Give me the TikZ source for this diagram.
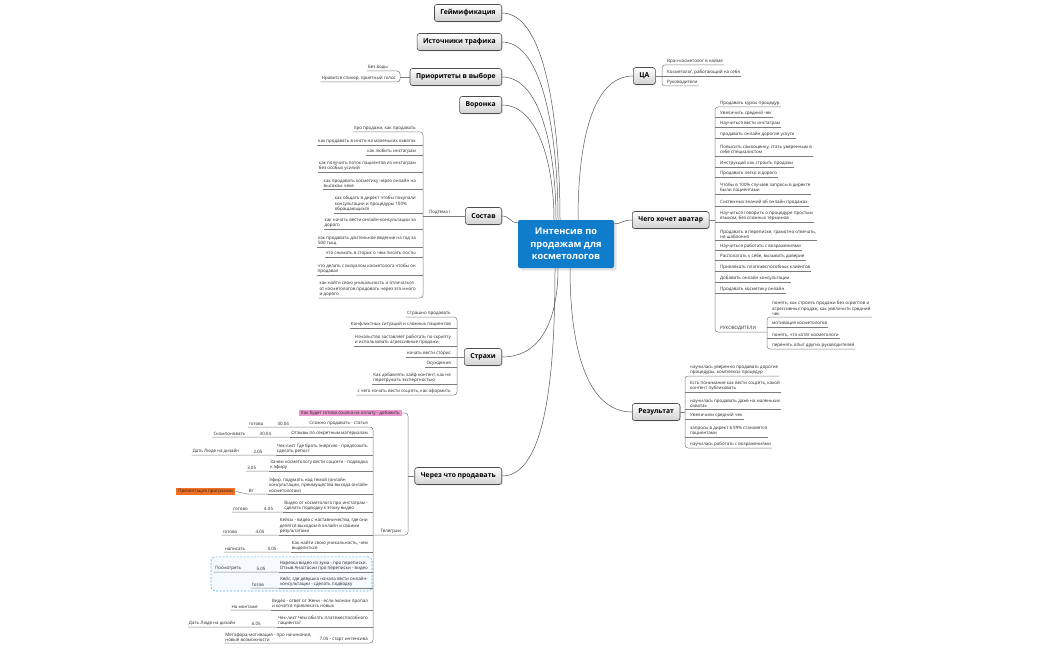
\documentclass[tikz,border=0pt]{standalone}
\usepackage{fontspec}
\setmainfont{Open Sans}
\usetikzlibrary{positioning,calc,fit,shadows,backgrounds}
\definecolor{rootblue}{RGB}{16,124,204}
\definecolor{linegray}{RGB}{85,85,85}
\definecolor{ulgray}{RGB}{125,125,125}
\definecolor{pinkmark}{RGB}{234,150,206}
\definecolor{orangemark}{RGB}{242,112,36}
\definecolor{dashblue}{RGB}{90,175,232}

\begin{document}
\begin{tikzpicture}[x=1pt, y=-1pt,
    root/.style={fill=rootblue, text=white, font=\bfseries\fontsize{9.3}{12.5}\selectfont, align=center,
      rounded corners=2pt, minimum width=96pt, minimum height=48pt, drop shadow={opacity=0.2}},
    topic/.style={draw=black!70, line width=0.6pt, rounded corners=2.5pt, top color=white, bottom color=black!18,
      font=\bfseries\fontsize{6.8}{8}\selectfont, minimum height=17pt, inner xsep=6pt, inner ysep=2pt,
      drop shadow={opacity=0.2, shadow xshift=0.8pt, shadow yshift=-0.8pt}},
    leaf/.style={font=\fontsize{4.45}{5.5}\selectfont, text=black!85, align=left, inner sep=1pt},
    branch/.style={draw=ulgray, line width=0.5pt, rounded corners=3pt},
    link/.style={draw=linegray, line width=0.5pt},
    boundary/.style={draw=dashblue, fill=dashblue!6, dash pattern=on 2pt off 1.5pt, rounded corners=4pt, line width=0.6pt}]
    \useasboundingbox (0,0) rectangle (1050,650);

    % central topic
    \node[root] (root) at (566,244) {Интенсив по\\продажам для\\косметологов};

    % main topics, left
    \node[topic, anchor=east] (gamif) at (502,13) {Геймификация};
    \node[topic, anchor=east] (traffic) at (502,42) {Источники трафика};
    \node[topic, anchor=east] (prior) at (502,77) {Приоритеты в выборе};
    \node[topic, anchor=east] (funnel) at (502,105) {Воронка};
    \node[topic, anchor=east] (content) at (502,216) {Состав};
    \node[topic, anchor=east] (fears) at (502,357) {Страхи};
    \node[topic, anchor=east] (channel) at (502,476) {Через что продавать};
    % main topics, right
    \node[topic, anchor=west] (ca) at (633,76) {ЦА};
    \node[topic, anchor=west] (avatar) at (632,220) {Чего хочет аватар};
    \node[topic, anchor=west] (result) at (632,412) {Результат};

    % curves to the centre
    \draw[link] (gamif.east) .. controls +(45,0) and +(0,-90) .. ([xshift=-6pt]root.north);
    \draw[link] (traffic.east) .. controls +(42,0) and +(0,-80) .. ([xshift=-8pt]root.north);
    \draw[link] (prior.east) .. controls +(40,0) and +(0,-65) .. ([xshift=-10pt]root.north);
    \draw[link] (funnel.east) .. controls +(38,0) and +(0,-50) .. ([xshift=-12pt]root.north);
    \draw[link] (content.east) .. controls +(8,0) and +(-8,0) .. ([yshift=-3pt]root.north west);
    \draw[link] (fears.east) .. controls +(40,0) and +(0,50) .. ([xshift=-8pt]root.south);
    \draw[link] (channel.east) .. controls +(45,0) and +(0,100) .. ([xshift=-11pt]root.south);
    \draw[link] (ca.west) .. controls +(-40,0) and +(0,-80) .. ([xshift=12pt]root.north);
    \draw[link] (avatar.west) .. controls +(-10,0) and +(8,0) .. ([yshift=-4pt]root.north east);
    \draw[link] (result.west) .. controls +(-45,0) and +(0,80) .. ([xshift=4pt]root.south);

    % Приоритеты в выборе
    \coordinate (priorsp) at (400,0);
    \node[leaf, anchor=south east] (prior1) at (389,71) {Без воды};
    \node[leaf, anchor=south east] (prior2) at (397,82) {Нравится спикер, приятный голос};
    \draw[branch] (prior1.south west) -- (prior1.south west -| priorsp) -- (prior2.south west -| priorsp) -- (prior2.south west);
    \draw[branch] (prior.west) -- (prior.west -| priorsp);

    % Состав
    \coordinate (contsp) at (423,0);
    \node[leaf, anchor=south west] (subtopic) at (428,216) {Подтема I};
    \draw[branch] (content.west -| contsp) -- (content.west);
    \node[leaf, anchor=south east] (cont1) at (417,132) {про продажи, как продавать};
    \node[leaf, anchor=south east] (cont2) at (417,145) {как продавать в инсте на маленьких охватах};
    \node[leaf, anchor=south east] (cont3) at (417,155) {как любить инстаграм};
    \node[leaf, anchor=south east] (cont4) at (417,172) {как получить поток пациентов из инстаграм\\без особых усилий};
    \node[leaf, anchor=south east] (cont5) at (417,189) {как продавать косметику через онлайн на\\высоком чеке};
    \node[leaf, anchor=south east] (cont6) at (417,213) {как общать в директ чтобы покупали\\консультации и процедуры 100\%\\обращающихся};
    \node[leaf, anchor=south east] (cont7) at (417,229) {как начать вести онлайн-консультации за\\дорого};
    \node[leaf, anchor=south east] (cont8) at (417,247) {как продавать длительное ведение на год за\\500 тыщ};
    \node[leaf, anchor=south east] (cont9) at (417,257) {что снимать в сторис о чем писать посты};
    \node[leaf, anchor=south east] (cont10) at (417,275) {что делать с визуалом косметолога чтобы он\\продавал};
    \node[leaf, anchor=south east] (cont11) at (417,298) {как найти свою уникальность и отличаться\\от косметологов продовать через это много\\и дорого};
    \draw[branch] (cont1.south west) -- (cont1.south west -| contsp) -- (cont11.south west -| contsp) -- (cont11.south west);
    \draw[branch] (cont2.south west) -- (cont2.south west -| contsp) (cont3.south west) -- (cont3.south west -| contsp)
      (cont4.south west) -- (cont4.south west -| contsp) (cont5.south west) -- (cont5.south west -| contsp)
      (cont6.south west) -- (cont6.south west -| contsp) (cont7.south west) -- (cont7.south west -| contsp)
      (cont8.south west) -- (cont8.south west -| contsp) (cont9.south west) -- (cont9.south west -| contsp)
      (cont10.south west) -- (cont10.south west -| contsp);

    % Страхи
    \coordinate (fearsp) at (457,0);
    \node[leaf, anchor=south east] (fear1) at (452,317) {Страшно продавать};
    \node[leaf, anchor=south east] (fear2) at (452,328) {Конфликтных ситуаций и сложных пациентов};
    \node[leaf, anchor=south east] (fear3) at (452,346) {Начальство заставляет работать по скрипту\\и использовать агрессивные продажи};
    \node[leaf, anchor=south east] (fear4) at (452,357) {начать вести сторис};
    \node[leaf, anchor=south east] (fear5) at (452,367) {Осуждения};
    \node[leaf, anchor=south east] (fear6) at (452,384) {Как добавлять лайф контент, как не\\перегружать экспертностью};
    \node[leaf, anchor=south east] (fear7) at (452,395) {с чего начать вести соцсеть, как оформить};
    \draw[branch] (fear1.south west) -- (fear1.south west -| fearsp) -- (fear7.south west -| fearsp) -- (fear7.south west);
    \draw[branch] (fear2.south west) -- (fear2.south west -| fearsp) (fear3.south west) -- (fear3.south west -| fearsp)
      (fear4.south west) -- (fear4.south west -| fearsp) (fear5.south west) -- (fear5.south west -| fearsp)
      (fear6.south west) -- (fear6.south west -| fearsp);
    \draw[branch] (fears.west) -- (fears.west -| fearsp);

    % ЦА
    \coordinate (casp) at (662,0);
    \node[leaf, anchor=south west] (ca1) at (666,65) {Врач-косметолог в найме};
    \node[leaf, anchor=south west] (ca2) at (666,76) {Косметолог, работающий на себя};
    \node[leaf, anchor=south west] (ca3) at (666,86) {Руководители};
    \draw[branch] (ca1.south east) -- (ca1.south east -| casp) -- (ca3.south east -| casp) -- (ca3.south east);
    \draw[branch] (ca2.south east) -- (ca2.south east -| casp);
    \draw[branch] (ca.east) -- (ca.east -| casp);

    % Чего хочет аватар
    \coordinate (avsp) at (715,0);
    \coordinate (bosssp) at (767,0);
    \node[leaf, anchor=south west] (av1) at (719,107) {Продавать курсы процедур};
    \node[leaf, anchor=south west] (av2) at (719,117) {Увеличить средний чек};
    \node[leaf, anchor=south west] (av3) at (719,127) {Научиться вести инстаграм};
    \node[leaf, anchor=south west] (av4) at (719,138) {продавать онлайн дорогие услуги};
    \node[leaf, anchor=south west] (av5) at (719,156) {Повысить самооценку, стать уверенным в\\себе специалистом};
    \node[leaf, anchor=south west] (av6) at (719,167) {Инструкций как строить продажи};
    \node[leaf, anchor=south west] (av7) at (719,177) {Продавать легко и дорого};
    \node[leaf, anchor=south west] (av8) at (719,194) {Чтобы в 100\% случаев запросы в директе\\были пациентами};
    \node[leaf, anchor=south west] (av9) at (719,206) {Системных знаний об онлайн продажах};
    \node[leaf, anchor=south west] (av10) at (719,222) {Научиться говорить о процедуре простым\\языком, без сложных терминов};
    \node[leaf, anchor=south west] (av11) at (719,240) {Продавать в переписке, грамотно отвечать,\\не шаблонно};
    \node[leaf, anchor=south west] (av12) at (719,250) {Научиться работать с возражениями};
    \node[leaf, anchor=south west] (av13) at (719,260) {Располагать к себе, вызывать доверие};
    \node[leaf, anchor=south west] (av14) at (719,271) {Привлекать платежеспособных клиентов};
    \node[leaf, anchor=south west] (av15) at (719,282) {Добавить онлайн консультации};
    \node[leaf, anchor=south west] (av16) at (719,293) {Продавать косметику онлайн};
    \node[leaf, anchor=south west] (boss) at (719,332) {РУКОВОДИТЕЛИ};
    \draw[branch] (av1.south east) -- (av1.south east -| avsp) -- (boss.south west -| avsp) -- (boss.south west -| bosssp);
    \draw[branch] (av2.south east) -- (av2.south east -| avsp) (av3.south east) -- (av3.south east -| avsp)
      (av4.south east) -- (av4.south east -| avsp) (av5.south east) -- (av5.south east -| avsp)
      (av6.south east) -- (av6.south east -| avsp) (av7.south east) -- (av7.south east -| avsp)
      (av8.south east) -- (av8.south east -| avsp) (av9.south east) -- (av9.south east -| avsp)
      (av10.south east) -- (av10.south east -| avsp) (av11.south east) -- (av11.south east -| avsp)
      (av12.south east) -- (av12.south east -| avsp) (av13.south east) -- (av13.south east -| avsp)
      (av14.south east) -- (av14.south east -| avsp) (av15.south east) -- (av15.south east -| avsp)
      (av16.south east) -- (av16.south east -| avsp);
    \draw[branch] (avatar.east) -- (avatar.east -| avsp);
    % руководители
    \node[leaf, anchor=south west] (boss1) at (771,317) {понять, как строить продажи без скриптов и\\агрессивных продаж, как увеличить средний\\чек};
    \node[leaf, anchor=south west] (boss2) at (771,327) {мотивация косметологов};
    \node[leaf, anchor=south west] (boss3) at (771,338) {понять, что хотят косметологи};
    \node[leaf, anchor=south west] (boss4) at (771,349) {перенять опыт других руководителей};
    \draw[branch] (boss1.south east) -- (boss1.south east -| bosssp) -- (boss4.south east -| bosssp) -- (boss4.south east);
    \draw[branch] (boss2.south east) -- (boss2.south east -| bosssp) (boss3.south east) -- (boss3.south east -| bosssp);

    % Результат
    \coordinate (ressp) at (685,0);
    \node[leaf, anchor=south west] (res1) at (689,376) {научилась уверенно продавать дорогие\\процедуры, комплексы процедур};
    \node[leaf, anchor=south west] (res2) at (689,392) {Есть понимание как вести соцсеть, какой\\контент публиковать};
    \node[leaf, anchor=south west] (res3) at (689,409) {научилась продавать даже на маленьких\\охватах};
    \node[leaf, anchor=south west] (res4) at (689,419) {Увеличили средний чек};
    \node[leaf, anchor=south west] (res5) at (689,437) {запросы в директ в 99\% становятся\\пациентами};
    \node[leaf, anchor=south west] (res6) at (689,448) {научилась работать с возражениями};
    \draw[branch] (res1.south east) -- (res1.south east -| ressp) -- (res6.south east -| ressp) -- (res6.south east);
    \draw[branch] (res2.south east) -- (res2.south east -| ressp) (res3.south east) -- (res3.south east -| ressp)
      (res4.south east) -- (res4.south east -| ressp) (res5.south east) -- (res5.south east -| ressp);
    \draw[branch] (result.east) -- (result.east -| ressp);

    % Через что продавать
    \coordinate (chansp) at (408,0);
    \coordinate (tgsp) at (373,0);
    \node[leaf, fill=pinkmark, anchor=east, inner xsep=2pt, inner ysep=1.2pt] (paylink) at (402,413) {Как будет готова ссылка на оплату - добавить};
    \node[leaf, anchor=south east] (tg) at (402,535) {Телеграм};
    \draw[branch] (paylink.east) -- (paylink.east -| chansp) -- (tg.south east -| chansp) -- (tg.south west -| tgsp);
    \draw[branch] (channel.west) -- (channel.west -| chansp);

    % телеграм
    \node[leaf, anchor=south east] (tg1) at (369,427) {Сложно продавать - статья};
    \node[leaf, anchor=south east] (tg2) at (369,437) {Отзывы по секретным материалам};
    \node[leaf, anchor=south east] (tg3) at (369,455) {Чек-лист Где брать энергию - предложить\\сделать репост};
    \node[leaf, anchor=south east] (tg4) at (369,471) {Зачем косметологу вести соцсети - подводка\\к эфиру};
    \node[leaf, anchor=south east] (tg5) at (369,494) {Эфир, подумать над темой (онлайн\\консультации, преимущества выхода онлайн\\косметологам)};
    \node[leaf, anchor=south east] (tg6) at (369,512) {Видео от косметолога про инстаграм -\\сделать подводку к этому видео};
    \node[leaf, anchor=south east] (tg7) at (369,535) {Кейсы - видео с наставничества, где они\\делятся выходом в онлайн и своими\\результатами};
    \node[leaf, anchor=south east] (tg8) at (369,552) {Как найти свою уникальность, чем\\выделиться};
    \node[leaf, anchor=south east] (tg9) at (369,572) {Нарезка видео из зума - про переписки.\\Отзыв Анастасии про переписки - видео};
    \node[leaf, anchor=south east] (tg10) at (369,588) {Кейс, где девушка начала вести онлайн-\\консультации - сделать подводку};
    \node[leaf, anchor=south east] (tg11) at (369,610) {Видео - ответ от Жени - если эконом пропал\\и хочется привлекать новых};
    \node[leaf, anchor=south east] (tg12) at (369,627) {Чек-лист Чем обилть платежеспособного\\пациента?};
    \node[leaf, anchor=south east] (tg13) at (369,643) {7.05 - старт интенсива};
    \draw[branch] (tg1.south west) -- (tg1.south west -| tgsp) -- (tg13.south west -| tgsp) -- (tg13.south west);
    \draw[branch] (tg2.south west) -- (tg2.south west -| tgsp) (tg3.south west) -- (tg3.south west -| tgsp)
      (tg4.south west) -- (tg4.south west -| tgsp) (tg5.south west) -- (tg5.south west -| tgsp)
      (tg6.south west) -- (tg6.south west -| tgsp) (tg7.south west) -- (tg7.south west -| tgsp)
      (tg8.south west) -- (tg8.south west -| tgsp) (tg9.south west) -- (tg9.south west -| tgsp)
      (tg10.south west) -- (tg10.south west -| tgsp) (tg11.south west) -- (tg11.south west -| tgsp)
      (tg12.south west) -- (tg12.south west -| tgsp);

    % dates and statuses
    \node[leaf, anchor=south east] (tg1d) at ([xshift=-18pt]tg1.south west) {30.04};
    \node[leaf, anchor=south east] (tg1s) at ([xshift=-12pt]tg1d.south west) {готова};
    \node[leaf, anchor=south east] (tg2d) at ([xshift=-18pt]tg2.south west) {30.04};
    \node[leaf, anchor=south east] (tg2s) at ([xshift=-12pt]tg2d.south west) {Скомпоновать};
    \node[leaf, anchor=south east] (tg3d) at ([xshift=-12pt]tg3.south west) {2.05};
    \node[leaf, anchor=south east] (tg3s) at ([xshift=-12pt]tg3d.south west) {Дать Люде на дизайн};
    \node[leaf, anchor=south east] (tg4d) at ([xshift=-12pt]tg4.south west) {3.05};
    \node[leaf, anchor=south east] (tg5d) at ([xshift=-13pt]tg5.south west) {Вт};
    \node[leaf, fill=orangemark, anchor=south east, inner xsep=2pt, inner ysep=1.2pt] (tg5s) at ([xshift=-12pt, yshift=-1pt]tg5d.south west) {Презентация программы};
    \node[leaf, anchor=south east] (tg6d) at ([xshift=-9pt]tg6.south west) {4.05};
    \node[leaf, anchor=south east] (tg6s) at ([xshift=-14pt]tg6d.south west) {готово};
    \node[leaf, anchor=south east] (tg7d) at ([xshift=-13pt]tg7.south west) {4.05};
    \node[leaf, anchor=south east] (tg7s) at ([xshift=-16pt]tg7d.south west) {готово};
    \node[leaf, anchor=south east] (tg8d) at ([xshift=-13pt]tg8.south west) {5.05};
    \node[leaf, anchor=south east] (tg8s) at ([xshift=-20pt]tg8d.south west) {написать};
    \node[leaf, anchor=south east] (tg9d) at ([xshift=-12pt]tg9.south west) {5.05};
    \node[leaf, anchor=south east] (tg9s) at ([xshift=-13pt]tg9d.south west) {Посмотреть};
    \node[leaf, anchor=south east] (tg10s) at ([xshift=-14pt]tg10.south west) {Готов};
    \node[leaf, anchor=south east] (tg11s) at ([xshift=-12pt]tg11.south west) {На монтаже};
    \node[leaf, anchor=south east] (tg12d) at ([xshift=-15pt]tg12.south west) {6.05};
    \node[leaf, anchor=south east] (tg12s) at ([xshift=-14pt]tg12d.south west) {Дать Люде на дизайн};
    \node[leaf, anchor=south east] (tg13s) at ([xshift=-6pt]tg13.south west) {Метафора-мотивация - про начинания,\\новые возможности};
    \draw[branch] (tg1s.south west) -- (tg1d.south west) -- (tg1.south west)
      (tg2s.south west) -- (tg2d.south west) -- (tg2.south west)
      (tg3s.south west) -- (tg3d.south west) -- (tg3.south west)
      (tg4d.south west) -- (tg4.south west)
      (tg5d.south west) -- (tg5.south west) (tg5s.east) -- (tg5d.south west)
      (tg6s.south west) -- (tg6d.south west) -- (tg6.south west)
      (tg7s.south west) -- (tg7d.south west) -- (tg7.south west)
      (tg8s.south west) -- (tg8d.south west) -- (tg8.south west)
      (tg9s.south west) -- (tg9d.south west) -- (tg9.south west)
      (tg10s.south west) -- (tg10.south west)
      (tg11s.south west) -- (tg11.south west)
      (tg12s.south west) -- (tg12d.south west) -- (tg12.south west)
      (tg13s.south west) -- (tg13.south west);

    % background: page and the dashed group
    \begin{scope}[on background layer]
        \fill[white] (0,0) rectangle (1050,650);
        \node[boundary, inner sep=3pt, fit=(tg9s) (tg9) (tg10)] (group) {};
    \end{scope}
\end{tikzpicture}
\end{document}
